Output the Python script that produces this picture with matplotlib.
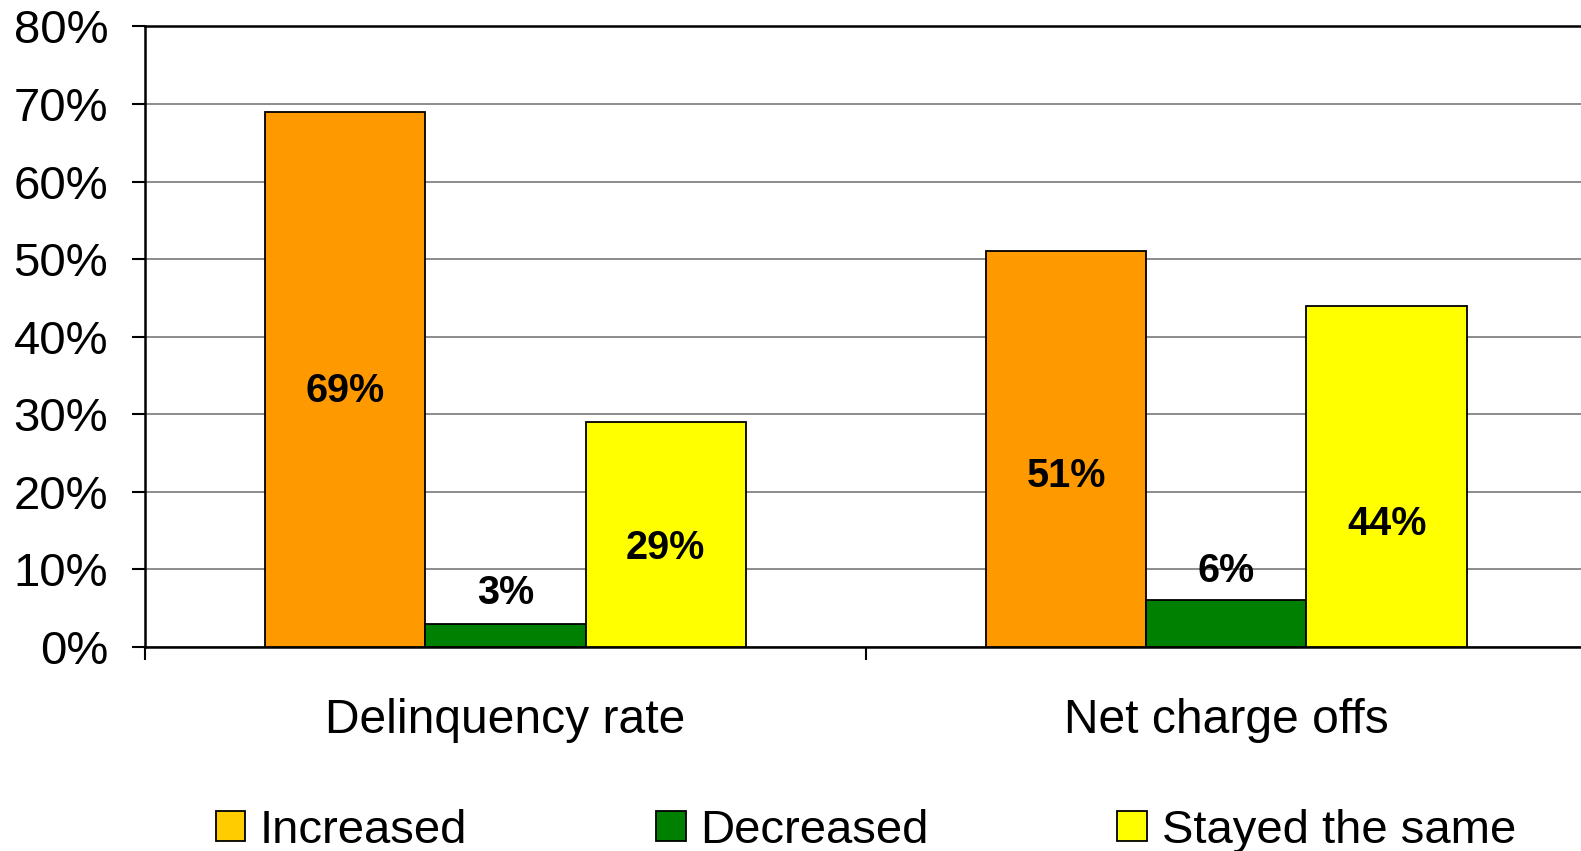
import matplotlib.pyplot as plt
import numpy as np

categories = ['Delinquency rate', 'Net charge offs']
series = ['Increased', 'Decreased', 'Stayed the same']
increased = [69, 51]
decreased = [3, 6]
stayed = [29, 44]
yticks = [0, 10, 20, 30, 40, 50, 60, 70, 80]

# where the value labels sit (percent units)
label_y = [[33.0, 7.0, 12.7], [22.0, 9.8, 15.9]]

plt.rcParams['font.family'] = ['Liberation Sans', 'DejaVu Sans']

bar_colors = ['#FF9900', '#008000', '#FFFF00']
legend_colors = ['#FFCC00', '#008000', '#FFFF00']

fig = plt.figure(figsize=(15.81, 8.51), dpi=100)
ax = fig.add_axes([0.0917, 0.2397, 0.912, 0.7293])

x = np.arange(len(categories))
w = 2 / 9.0
values = [increased, decreased, stayed]
for k, vals in enumerate(values):
    ax.bar(x + (k - 1) * w, vals, w, color=bar_colors[k], edgecolor='black',
           linewidth=1.3, zorder=3)
    for i, v in enumerate(vals):
        ax.text(x[i] + (k - 1) * w, label_y[i][k], '%d%%' % v, ha='center',
                va='center', fontsize=28.5, fontweight='bold', zorder=4)

ax.set_xlim(-0.5, 1.5)
ax.set_ylim(0, 80)
ax.set_yticks(yticks)
ax.set_yticklabels(['%d%%' % t for t in yticks])
ax.yaxis.grid(True, color='#8c8c8c', linewidth=1.4, zorder=0)
ax.tick_params(axis='y', labelsize=34, length=9.5, width=1.5, pad=17, direction='out')

ax.set_xticks(x)
ax.set_xticklabels(categories)
ax.set_xticks([-0.5, 0.5, 1.5], minor=True)
ax.tick_params(axis='x', which='major', length=0, labelsize=34.6, pad=37)
ax.tick_params(axis='x', which='minor', length=9.5, width=1.5, direction='out')

for s in ['left', 'bottom', 'top']:
    ax.spines[s].set_linewidth(1.8)
    ax.spines[s].set_color('black')
ax.spines['right'].set_visible(False)

handles = [plt.Rectangle((0, 0), 1, 1, facecolor=c, edgecolor='black', linewidth=1.3)
           for c in legend_colors]
fig.legend(handles, series, loc='center', bbox_to_anchor=(0.5476, 0.024), ncol=3,
           frameon=False, fontsize=34, handlelength=0.625, handleheight=0.625,
           handletextpad=0.31, columnspacing=4.0, borderaxespad=0, borderpad=0)

fig.savefig('out.png', dpi=100)
